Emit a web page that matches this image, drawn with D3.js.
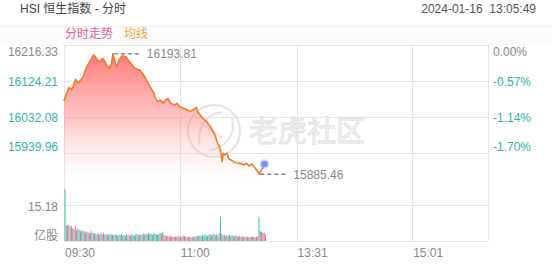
<!DOCTYPE html>
<meta charset='utf-8'>
<style>
    body { margin: 0; background: #fff; }
    svg { font-family: Arial, 'Liberation Sans', 'Noto Sans CJK SC', sans-serif; }
    .grid { stroke: #e4e4e4; stroke-width: 1; shape-rendering: crispEdges; }
    .lbl { font-size: 12px; }
</style>

<svg width="552" height="265"></svg>
<script src="https://d3js.org/d3.v7.min.js"></script>

<script>

// previous close / axis
var prevClose = 16216.33;
var priceTicks = [16216.33, 16124.21, 16032.08, 15939.96];
var pctTicks = ['0.00%', '-0.57%', '-1.14%', '-1.70%'];
var timeTicks = [0, 90, 181, 271];
var timeLabels = ['09:30', '11:00', '13:31', '15:01'];
var volTickLabel = '15.18';

// minute index since 09:30 (lunch break removed) and index value
var minutes = [0, 2, 4, 6, 8, 9, 11, 13, 15, 17, 19, 20, 23, 24, 26, 28, 30, 32, 33, 35,
    37, 38, 40, 41, 43, 45, 48, 50, 53, 55, 57, 59, 62, 64, 67, 70, 71, 73, 75, 77,
    79, 81, 83, 86, 88, 90, 93, 96, 98, 101, 103, 104, 106, 108, 111, 114, 116, 118, 119, 121,
    122, 123, 124, 125, 127, 128, 130, 132, 134, 137, 140, 142, 144, 146, 148, 149, 150, 152, 153, 154,
    155, 156];
var prices = [16073.0, 16092.7, 16108.1, 16101.2, 16118.3, 16128.6, 16118.3, 16126.8, 16135.2, 16156.7,
    16167.7, 16173.6, 16190.7, 16188.2, 16177.9, 16173.6, 16182.3, 16173.6, 16165.2, 16156.7,
    16167.7, 16193.81, 16169.5, 16160.8, 16177.9, 16188.5, 16186.2, 16177.9, 16165.2, 16156.7,
    16154.1, 16152.4, 16139.6, 16126.8, 16109.6, 16092.7, 16079.9, 16071.2, 16075.6, 16067.1,
    16075.6, 16079.9, 16067.1, 16062.8, 16067.1, 16058.4, 16054.3, 16050.0, 16045.7, 16051.8,
    16056.9, 16045.7, 16037.2, 16028.8, 16020.1, 16007.3, 15994.5, 15981.7, 15969.0, 15956.1,
    15943.3, 15917.7, 15939.2, 15934.8, 15939.2, 15926.4, 15922.0, 15917.7, 15915.1, 15913.6,
    15909.3, 15913.6, 15906.7, 15911.8, 15904.1, 15900.0, 15896.5, 15885.46, 15893.3, 15896.5,
    15904.1, 15911.8];

var highMin = 38, highVal = 16193.81;
var lowMin = 152, lowVal = 15885.46;

// volume per minute (亿股), 1 = up (pink), 0 = down (teal)
var volumes = [22.0, 6.8, 6.5, 6.9, 6.0, 6.4, 5.4, 5.0, 6.3, 4.5,
    5.2, 4.8, 4.1, 4.6, 3.9, 4.3, 3.5, 4.0, 3.8, 3.3,
    4.2, 3.6, 3.1, 3.4, 2.9, 3.2, 3.0, 2.7, 3.3, 2.8,
    3.5, 2.6, 3.0, 2.5, 2.9, 2.4, 3.0, 2.7, 2.3, 2.8,
    2.6, 2.2, 2.7, 2.5, 2.9, 2.3, 2.6, 2.1, 2.8, 2.4,
    2.6, 2.2, 2.9, 2.5, 2.3, 2.7, 3.0, 2.6, 2.4, 2.8,
    2.5, 3.1, 2.7, 3.2, 2.6, 3.4, 2.9, 3.1, 2.5, 3.3,
    2.8, 3.0, 2.6, 2.9, 3.5, 3.1, 3.9, 2.7, 2.3, 2.0,
    2.2, 1.9, 2.1, 1.8, 2.0, 1.7, 1.9, 1.8, 2.2, 1.6,
    1.9, 1.7, 2.3, 2.1, 1.8, 1.6, 1.9, 1.7, 1.5, 1.8,
    1.6, 2.0, 1.8, 2.2, 1.9, 2.4, 2.0, 2.6, 2.2, 2.8,
    2.4, 2.1, 2.6, 2.9, 2.3, 2.7, 3.1, 2.5, 2.8, 2.2,
    3.3, 10.2, 3.0, 2.4, 2.7, 2.1, 2.5, 2.3, 2.6, 2.0,
    2.4, 2.2, 1.9, 2.3, 2.1, 1.8, 2.2, 1.7, 2.0, 1.8,
    1.6, 1.9, 1.7, 1.5, 1.8, 1.6, 1.9, 1.7, 1.5, 1.8,
    2.0, 10.2, 4.2, 3.8, 3.3, 3.5, 2.8];
var volUp = [0, 0, 1, 1, 0, 1, 1, 0, 1, 0,
    1, 0, 0, 1, 0, 0, 1, 0, 1, 1,
    0, 1, 0, 0, 1, 0, 1, 1, 0, 0,
    1, 0, 0, 1, 0, 1, 0, 0, 1, 0,
    0, 1, 0, 0, 1, 0, 0, 1, 0, 0,
    1, 0, 1, 0, 0, 0, 1, 0, 0, 1,
    0, 0, 1, 0, 0, 0, 1, 0, 0, 0,
    0, 1, 0, 0, 0, 1, 0, 1, 1, 1,
    1, 1, 1, 0, 1, 1, 1, 1, 0, 1,
    1, 1, 0, 1, 1, 1, 1, 0, 1, 1,
    0, 1, 0, 0, 1, 0, 0, 0, 1, 0,
    0, 0, 1, 0, 0, 0, 1, 0, 1, 0,
    0, 0, 1, 0, 1, 0, 0, 1, 0, 1,
    0, 0, 1, 0, 1, 1, 0, 1, 1, 0,
    1, 1, 0, 1, 1, 0, 1, 1, 0, 1,
    1, 0, 0, 1, 1, 1, 1];

var svg = d3.select('svg');

var x = d3.scaleLinear().domain([0, 330]).range([64, 488]);
var step = priceTicks[0] - priceTicks[1];
var y = d3.scaleLinear()
    .domain([prevClose - 4 * step, prevClose])
    .range([189, 45]);
var yv = d3.scaleLinear().domain([0, 15.18]).range([241, 205]);

// header
svg.append('text').attr('x', 20).attr('y', 13).attr('class', 'lbl')
    .attr('fill', '#444').text('HSI 恒生指数 - 分时');
svg.append('text').attr('x', 536).attr('y', 13).attr('class', 'lbl')
    .attr('text-anchor', 'end').attr('fill', '#555')
    .style('white-space', 'pre').text('2024-01-16  13:05:49');

svg.append('rect').attr('x', 0).attr('y', 26).attr('width', 552).attr('height', 19)
    .attr('fill', '#fcfcfc');
svg.append('line').attr('class', 'grid').attr('x1', 0).attr('x2', 552)
    .attr('y1', 26).attr('y2', 26).style('stroke', '#f0f0f0');
svg.append('text').attr('x', 65).attr('y', 38).attr('class', 'lbl')
    .attr('fill', '#e0607a').text('分时走势');
svg.append('text').attr('x', 124).attr('y', 38).attr('class', 'lbl')
    .attr('fill', '#f0a23c').text('均线');

// grid
var g = svg.append('g');
g.selectAll('.h').data(priceTicks).enter().append('line')
    .attr('class', 'grid')
    .attr('x1', 64).attr('x2', 488)
    .attr('y1', function(d) { return Math.round(y(d)) + 0.5; })
    .attr('y2', function(d) { return Math.round(y(d)) + 0.5; });
[15.18, 0].forEach(function(v) {
    g.append('line').attr('class', 'grid')
        .attr('x1', 64).attr('x2', 488)
        .attr('y1', yv(v) + 0.5).attr('y2', yv(v) + 0.5);
});
g.selectAll('.v').data(timeTicks.concat([330])).enter().append('line')
    .attr('class', 'grid')
    .attr('x1', function(d) { return Math.round(x(d)) + 0.5; })
    .attr('x2', function(d) { return Math.round(x(d)) + 0.5; })
    .attr('y1', 45).attr('y2', 241);

// watermark
var wm = svg.append('g').attr('fill', 'none').attr('stroke', '#e2e2e2');
wm.append('circle').attr('cx', 214).attr('cy', 131).attr('r', 26).attr('stroke-width', 2);
wm.append('path').attr('stroke-width', 2)
    .attr('d', 'M200,145 C196,128 206,114 222,112 M232,118 C236,134 226,148 210,150 M206,126 L222,138');
svg.append('text').attr('x', 249).attr('y', 142)
    .attr('font-size', 29).attr('fill', '#f4f4f4').attr('stroke', '#dedede')
    .attr('stroke-width', 0.8).text('老虎社区');

// area + line
var pts = minutes.map(function(m, i) { return [m, prices[i]]; });

var grad = svg.append('defs').append('linearGradient')
    .attr('id', 'fill').attr('gradientUnits', 'userSpaceOnUse')
    .attr('x1', 0).attr('y1', 45).attr('x2', 0).attr('y2', 189);
grad.append('stop').attr('offset', '0').attr('stop-color', '#ff5f5f').attr('stop-opacity', 0.9);
grad.append('stop').attr('offset', '0.55').attr('stop-color', '#ff8a8a').attr('stop-opacity', 0.45);
grad.append('stop').attr('offset', '1').attr('stop-color', '#ffffff').attr('stop-opacity', 0);

svg.append('path').datum(pts)
    .attr('fill', 'url(#fill)')
    .attr('d', d3.area()
        .x(function(d) { return x(d[0]); })
        .y0(189)
        .y1(function(d) { return y(d[1]); }));

svg.append('path').datum(pts)
    .attr('fill', 'none').attr('stroke', '#ef7a28').attr('stroke-width', 1.6)
    .attr('stroke-linejoin', 'round')
    .attr('d', d3.line()
        .x(function(d) { return x(d[0]); })
        .y(function(d) { return y(d[1]); }));

// high / low markers
function marker(m, v) {
    var yy = y(v);
    svg.append('line').attr('x1', x(m) + 1).attr('x2', x(m) + 29)
        .attr('y1', yy).attr('y2', yy)
        .attr('stroke', '#888').attr('stroke-width', 1.5).attr('stroke-dasharray', '4,3');
    svg.append('text').attr('x', x(m) + 34).attr('y', yy + 4.5).attr('class', 'lbl')
        .attr('fill', '#888').text(v.toFixed(2));
}
marker(highMin, highVal);
marker(lowMin, lowVal);

// current dot
var lastM = minutes[minutes.length - 1], lastP = prices[prices.length - 1];
svg.append('circle').attr('cx', x(lastM)).attr('cy', y(lastP)).attr('r', 5)
    .attr('fill', '#8aa0f0').attr('opacity', 0.35);
svg.append('circle').attr('cx', x(lastM)).attr('cy', y(lastP)).attr('r', 3.3)
    .attr('fill', '#7d8ff0');

// volume bars
svg.append('g').selectAll('rect').data(volumes).enter().append('rect')
    .attr('x', function(d, i) { return x(i) + 0.5; })
    .attr('width', 1)
    .attr('y', function(d) { return yv(d); })
    .attr('height', function(d) { return yv(0) - yv(d); })
    .attr('fill', function(d, i) { return volUp[i] ? '#ec6f8e' : '#3fbfb2'; });

// axis labels
svg.append('g').selectAll('text').data(priceTicks).enter().append('text')
    .attr('class', 'lbl').attr('text-anchor', 'end').attr('x', 58)
    .attr('y', function(d, i) { return y(d) + (i === 0 ? 11 : i === 3 ? -2 : 4.5); })
    .attr('fill', function(d, i) { return i === 0 ? '#888' : '#2fb3a6'; })
    .text(function(d) { return d.toFixed(2); });
svg.append('g').selectAll('text').data(pctTicks).enter().append('text')
    .attr('class', 'lbl').attr('x', 493)
    .attr('y', function(d, i) { return y(priceTicks[i]) + (i === 0 ? 11 : i === 3 ? -2 : 4.5); })
    .attr('fill', function(d, i) { return i === 0 ? '#888' : '#2fb3a6'; })
    .text(function(d) { return d; });
svg.append('text').attr('class', 'lbl').attr('text-anchor', 'end').attr('x', 58)
    .attr('y', yv(15.18) + 6).attr('fill', '#888').text(volTickLabel);
svg.append('text').attr('class', 'lbl').attr('text-anchor', 'end').attr('x', 58)
    .attr('y', 240).attr('fill', '#888').text('亿股');
svg.append('g').selectAll('text').data(timeTicks).enter().append('text')
    .attr('class', 'lbl').attr('x', function(d) { return x(d) + 1; })
    .attr('y', 257).attr('fill', '#888')
    .text(function(d, i) { return timeLabels[i]; });

</script>
